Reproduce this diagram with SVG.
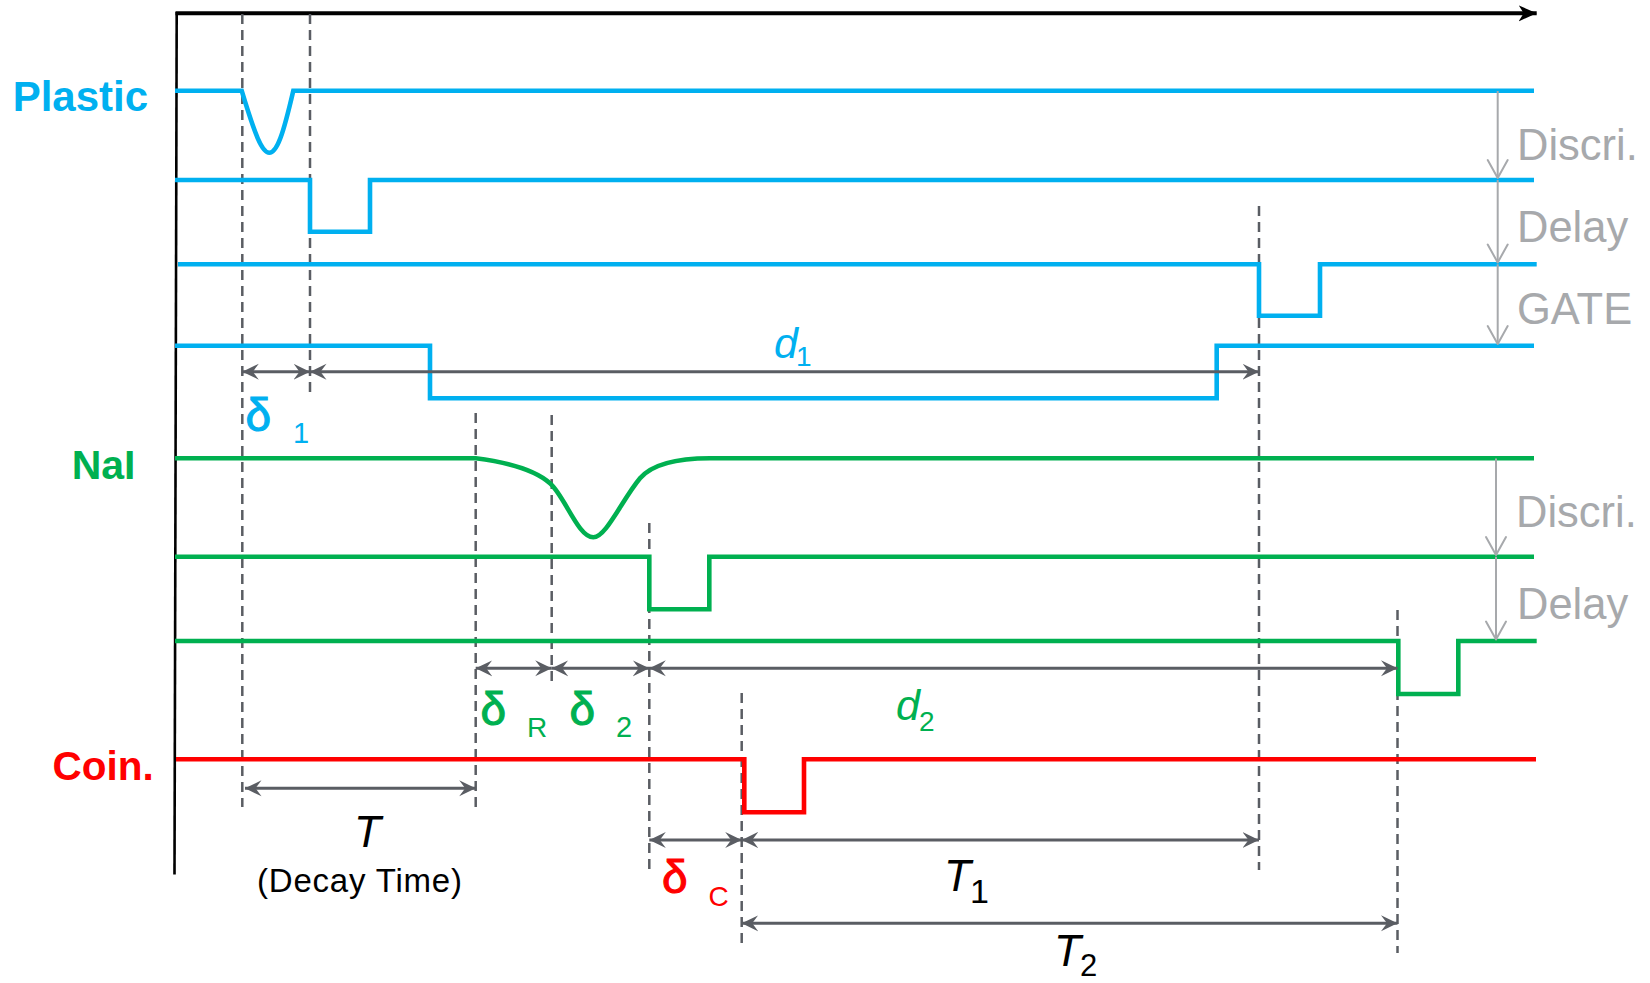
<svg xmlns="http://www.w3.org/2000/svg" width="1650" height="983" viewBox="0 0 1650 983">
<style>
  .sig { fill: none; stroke-width: 4.6; stroke-linejoin: miter; }
  .cy { stroke: #00B0F0; }
  .gr { stroke: #00B050; }
  .rd { stroke: #FF0000; }
  .dash { fill: none; stroke: #5A5D63; stroke-width: 2.5; stroke-dasharray: 10 6; }
  .dim { fill: none; stroke: #5A5D63; stroke-width: 3; marker-start: url(#dimHead); marker-end: url(#dimHead); }
  .step { fill: none; stroke: #A7A9AC; stroke-width: 2; marker-end: url(#stepHead); }
  .lbl { font-family: "Liberation Sans", Arial, sans-serif; font-weight: bold; }
  .gray { font-family: "Liberation Sans", Arial, sans-serif; font-size: 43.5px; fill: #A7A9AC; }
  .sym { font-family: "Liberation Sans", Arial, sans-serif; }
  .dl { font-size: 46px; stroke-width: 1.1; }
</style>
<defs>
  <marker id="dimHead" markerUnits="userSpaceOnUse" viewBox="0 0 18 18" markerWidth="18" markerHeight="18" refX="16.5" refY="9" orient="auto-start-reverse">
    <path d="M16.5,9 L0,1 L6,9 L0,17 Z" fill="#5A5D63"/>
  </marker>
  <marker id="stepHead" markerUnits="userSpaceOnUse" viewBox="-20 -12 22 24" markerWidth="22" markerHeight="24" refX="0" refY="0" orient="auto">
    <path d="M-18,-10 L0,0 L-18,10" fill="none" stroke="#A7A9AC" stroke-width="2" stroke-linecap="round" stroke-linejoin="round"/>
  </marker>
  <marker id="axisHead" markerUnits="userSpaceOnUse" viewBox="0 0 20 18" markerWidth="20" markerHeight="18" refX="18" refY="9" orient="auto">
    <path d="M18,9 L0,1 L5,9 L0,17 Z" fill="#000"/>
  </marker>
</defs>

<g id="axes">
  <line x1="176.7" y1="12" x2="174.5" y2="874.5" stroke="#000" stroke-width="2.6"/>
  <line x1="175.5" y1="13.3" x2="1536.7" y2="13.3" stroke="#000" stroke-width="4" marker-end="url(#axisHead)"/>
</g>

<g id="guides">
  <line class="dash" x1="242.3" y1="14" x2="242.3" y2="807"/>
  <line class="dash" x1="310" y1="14" x2="310" y2="396"/>
  <line class="dash" x1="475.7" y1="413" x2="475.7" y2="813"/>
  <line class="dash" x1="551.7" y1="415" x2="551.7" y2="687"/>
  <line class="dash" x1="649.3" y1="523" x2="649.3" y2="870"/>
  <line class="dash" x1="741.7" y1="693" x2="741.7" y2="947"/>
  <line class="dash" x1="1259" y1="206" x2="1259" y2="870"/>
  <line class="dash" x1="1397.5" y1="610" x2="1397.5" y2="953"/>
</g>

<g id="plastic">
  <text class="lbl" x="12.7" y="111" font-size="42" fill="#00B0F0">Plastic</text>
  <path class="sig cy" d="M175,90.7 H241.7 C255,135 262,152.7 269.3,152.7 C277,152.7 283,135 293.3,90.7 H1534"/>
  <path class="sig cy" d="M175,180 H310 V231.7 H370 V180 H1534"/>
  <path class="sig cy" d="M178,264.3 H1259 V315.7 H1320 V264.3 H1536.7"/>
  <path class="sig cy" d="M175,345.7 H430 V398.3 H1216.7 V345.7 H1534"/>
</g>

<g id="nai">
  <text class="lbl" x="71.7" y="479" font-size="41" fill="#00B050">NaI</text>
  <path class="sig gr" d="M175,458.3 H475.7 C505,462 535,470 550,483.3 C565,496.6 578,537.3 593.3,537.3 C606,537.3 622,500 640,478.3 C655,461 685,458.3 710,458.3 H1534"/>
  <path class="sig gr" d="M175,556.7 H649.3 V609.3 H709.3 V556.7 H1534"/>
  <path class="sig gr" d="M175,641 H1398.3 V694 H1458.3 V641 H1536.7"/>
</g>

<g id="coin">
  <text class="lbl" x="52.6" y="780" font-size="40.5" fill="#FF0000">Coin.</text>
  <path class="sig rd" d="M176,759.3 H744.3 V812.3 H804 V759.3 H1536"/>
</g>

<g id="stages">
  <text class="gray" x="1517" y="160">Discri.</text>
  <text class="gray" x="1517" y="241.7">Delay</text>
  <text class="gray" x="1517" y="324">GATE</text>
  <text class="gray" x="1516" y="527.3">Discri.</text>
  <text class="gray" x="1517" y="619.3">Delay</text>
</g>

<g id="connectors">
  <line class="step" x1="1497.7" y1="91" x2="1497.7" y2="178"/>
  <line class="step" x1="1497.7" y1="180" x2="1497.7" y2="262.5"/>
  <line class="step" x1="1497.7" y1="264.3" x2="1497.7" y2="344"/>
  <line class="step" x1="1496" y1="458.5" x2="1496" y2="555"/>
  <line class="step" x1="1496" y1="556.7" x2="1496" y2="639.5"/>

  <line class="dim" x1="242.3" y1="371.7" x2="310" y2="371.7"/>
  <line class="dim" x1="310" y1="371.7" x2="1259" y2="371.7"/>
  <line class="dim" x1="475.7" y1="668.3" x2="551.7" y2="668.3"/>
  <line class="dim" x1="551.7" y1="668.3" x2="649.3" y2="668.3"/>
  <line class="dim" x1="649.3" y1="668.3" x2="1397.5" y2="668.3"/>
  <line class="dim" x1="245" y1="788.3" x2="475.7" y2="788.3"/>
  <line class="dim" x1="649.3" y1="840" x2="741.7" y2="840"/>
  <line class="dim" x1="741.7" y1="840" x2="1259" y2="840"/>
  <line class="dim" x1="741.7" y1="923.3" x2="1397.5" y2="923.3"/>
</g>

<g id="symbols">
  <text class="sym dl" x="245.5" y="431" fill="#00B0F0" stroke="#00B0F0">δ</text>
  <text class="sym" x="293" y="442.7" font-size="29" fill="#00B0F0">1</text>
  <text class="sym" x="774" y="358" font-size="43" font-style="italic" fill="#00B0F0">d</text>
  <text class="sym" x="796" y="366" font-size="28" fill="#00B0F0">1</text>

  <text class="sym dl" x="480.5" y="724.5" fill="#00B050" stroke="#00B050">δ</text>
  <text class="sym" x="527" y="736.7" font-size="28" fill="#00B050">R</text>
  <text class="sym dl" x="569.5" y="724.5" fill="#00B050" stroke="#00B050">δ</text>
  <text class="sym" x="616" y="736.7" font-size="29" fill="#00B050">2</text>
  <text class="sym" x="896" y="720" font-size="43" font-style="italic" fill="#00B050">d</text>
  <text class="sym" x="919" y="730.7" font-size="28" fill="#00B050">2</text>

  <text class="sym" x="354" y="846.7" font-size="44" font-style="italic" fill="#000">T</text>
  <text class="sym" x="257" y="892.3" font-size="33" letter-spacing="0.8" fill="#000">(Decay Time)</text>

  <text class="sym dl" x="662" y="893" fill="#FF0000" stroke="#FF0000">δ</text>
  <text class="sym" x="708.5" y="905.7" font-size="28" fill="#FF0000">C</text>
  <text class="sym" x="944" y="891" font-size="44" font-style="italic" fill="#000">T</text>
  <text class="sym" x="970" y="903" font-size="34" fill="#000">1</text>
  <text class="sym" x="1054" y="966" font-size="44" font-style="italic" fill="#000">T</text>
  <text class="sym" x="1080" y="976" font-size="31" fill="#000">2</text>
</g>
</svg>
